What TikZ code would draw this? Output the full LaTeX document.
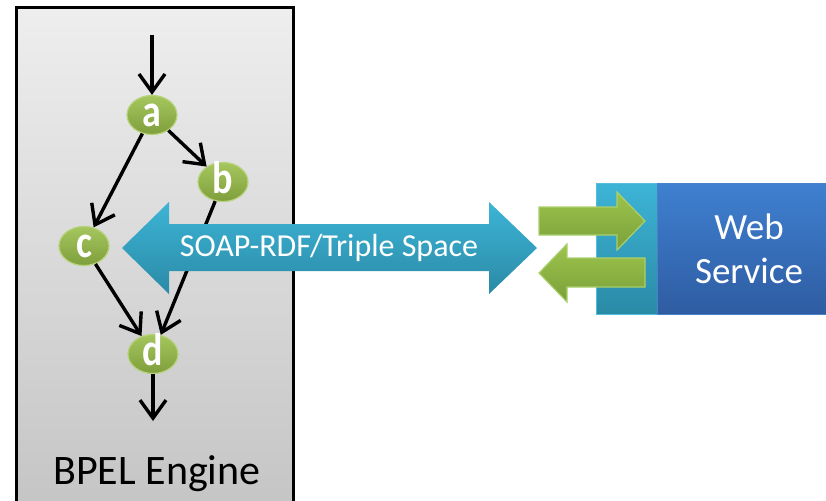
\documentclass[tikz,border=0pt]{standalone}
\usepackage{fontspec}
\setmainfont{Carlito}
\usetikzlibrary{arrows.meta,shapes.geometric}

\definecolor{boxtop}{HTML}{EEEEEE}
\definecolor{boxbot}{HTML}{C4C4C4}
\definecolor{greentop}{HTML}{A6C75E}
\definecolor{greenbot}{HTML}{7E9E3C}
\definecolor{greenrim}{HTML}{B6D27A}
\definecolor{cyantop}{HTML}{3DB4D6}
\definecolor{cyanbot}{HTML}{2A8AA6}
\definecolor{cyanrim}{HTML}{52BDDC}
\definecolor{bluetop}{HTML}{3F80D0}
\definecolor{bluebot}{HTML}{2E5CA2}
\definecolor{bluerim}{HTML}{4A82C8}
\definecolor{arrtop}{HTML}{9DC44C}
\definecolor{arrbot}{HTML}{7AA03A}
\definecolor{arrrim}{HTML}{AACF6C}

\newcommand{\actlabel}[1]{\scalebox{1}[1.2]{#1}}

\tikzset{
  enginebox/.style={draw=black, line width=3pt, top color=boxtop, bottom color=boxbot,
    rectangle, inner sep=0pt},
  actnode/.style={ellipse, draw=greenrim, line width=1.2pt, top color=greentop, bottom color=greenbot,
    minimum width=50pt, minimum height=39pt, inner sep=0pt, text=white,
    font=\bfseries\fontsize{38}{38}\selectfont, text height=22pt, text depth=0pt},
  flow/.style={line width=3.4pt, -{Straight Barb[length=18pt,width=26pt,line width=3.4pt]}},
  bigtext/.style={text=white, font=\fontsize{32}{34}\selectfont, inner sep=0pt},
  wsblock/.style={rectangle, inner sep=0pt, line width=1.4pt},
  greenarrow/.style={draw=arrrim, line width=1.2pt, top color=arrtop, bottom color=arrbot},
}

\begin{document}
\begin{tikzpicture}[x=1pt,y=-1pt]
\useasboundingbox (0,0) rectangle (826,500);

% engine container (bottom edge runs off the page)
\node[enginebox, minimum width=277pt, minimum height=510pt, anchor=north west] (engine) at (15,6) {};
\node[font=\fontsize{42}{42}\selectfont, inner sep=0pt] (enginelabel) at (157,474) {BPEL Engine};

% process activities
\node[actnode] (a) at (152,115) {\actlabel{a}};
\node[actnode] (b) at (223,182) {\actlabel{b}};
\node[actnode] (c) at (84,246) {\actlabel{c}};
\node[actnode] (d) at (153,354) {\actlabel{d}};

\coordinate (start) at (152,35);
\coordinate (finish) at (153,421);

\draw[flow] (start) -- (a);
\draw[flow] (a) -- (b);
\draw[flow] (a) -- (c);
\draw[flow] (c) -- (d);
\draw[flow] (b) -- (d);
\draw[flow] (d) -- (finish);

% messaging channel
\path[top color=cyantop, bottom color=cyanbot]
  (122,248) -- (169,202) -- (169,224) -- (489,224) -- (489,202) -- (537,248)
  -- (489,294) -- (489,271) -- (169,271) -- (169,294) -- cycle;
\node[bigtext] (channel) at (329,248) {SOAP-RDF/Triple Space};

% web service
\node[wsblock, draw=cyanrim, top color=cyantop, bottom color=cyanbot,
  minimum width=61pt, minimum height=131pt, anchor=north west] (port) at (596,183) {};
\node[wsblock, draw=bluerim, top color=bluetop, bottom color=bluebot,
  minimum width=175pt, minimum height=131pt, anchor=north west] (ws) at (657,183) {};
\node[bigtext, align=center, font=\fontsize{37}{44}\selectfont] (wslabel) at (749,249) {Web\\Service};

% request / response arrows
\path[greenarrow]
  (539,207) -- (617,207) -- (617,192) -- (645,221) -- (617,250) -- (617,235) -- (539,235) -- cycle;
\path[greenarrow]
  (645,258) -- (567,258) -- (567,244) -- (539,273) -- (567,302) -- (567,287) -- (645,287) -- cycle;
\end{tikzpicture}
\end{document}
